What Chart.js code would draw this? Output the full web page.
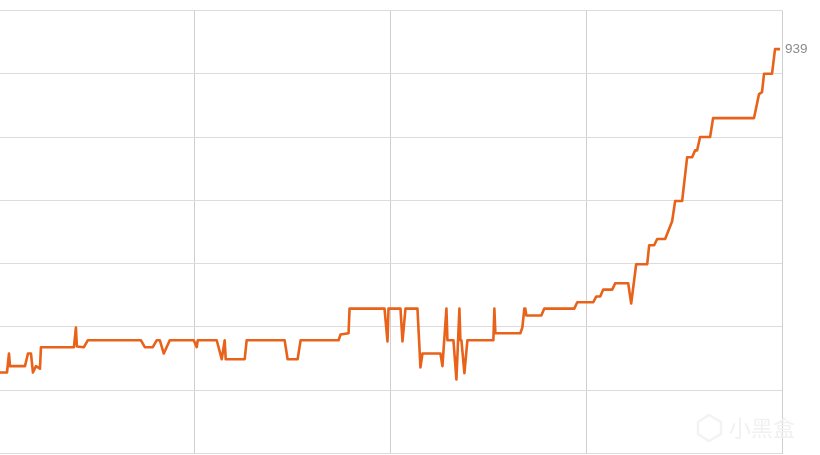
<!DOCTYPE html>
<html>
<head>
<meta charset="utf-8">
<style>html,body{margin:0;padding:0;background:#fff;overflow:hidden}canvas{display:block}</style>
<script src="https://cdn.jsdelivr.net/npm/chart.js@4"></script>
</head>
<body>
<canvas id="c" width="820" height="455"></canvas>
<script>
const days = [0.5,4,5,5.5,13,14.5,16,17,18.5,20.5,21,37.5,38.5,39,42.5,44.5,71,73,77,79,80.5,82.5,85.5,97.5,99,99.5,109,111.5,113,113.5,123,124,143,144.5,149.5,151,170,171,175,175.5,193,194.5,195,201,202,203.5,209.5,211,212,221,222,224,224.5,227.5,229,230.5,231,231.5,233,234.5,247.5,248,248.5,261,262,263,263.5,264,271.5,273,288,289.5,297.5,299,301,302.5,307,308.5,315,316.5,319,324.5,325.5,328,329.5,333.5,337,338.5,342,344.5,347,348.5,349.5,351,356,357.5,378,380.5,382,383,387,388.5,391];
const values = [428,428,458,438,438,458,458,428,438,434,468,468,499,469,468,479,479,468,468,479,479,458,479,479,468,479,479,449,479,449,449,479,479,449,449,479,479,488,490,529,529,477,529,529,477,529,529,436,458,458,438,529,479,479,417,529,479,479,427,479,479,529,490,490,499,529,529,518,518,529,529,539,539,548,548,559,559,569,569,537,599,599,629,629,639,639,667,699,699,768,768,779,779,800,800,830,830,868,871,900,900,939,939];
const gridDays = [98,196,294,392];
const yTicks = [300,400,500,600,700,800,900,1000];
const lastLabel = "939";
const watermark = "小黑盒";

const labelPlugin = {
  id: 'endLabel',
  afterDraw(chart) {
    const {ctx, scales:{x,y}} = chart;
    ctx.save();
    ctx.font = '13.5px "Liberation Sans", Arial, sans-serif';
    ctx.fillStyle = '#8c8c8c';
    ctx.textBaseline = 'middle';
    ctx.fillText(lastLabel, x.getPixelForValue(392) + 3, y.getPixelForValue(939) + 0.5);
    ctx.font = '22px "Noto Sans CJK SC", sans-serif';
    ctx.fillStyle = '#f1f1f1';
    ctx.fillText(watermark, 729, 428);
    ctx.strokeStyle = '#f3f3f3';
    ctx.lineWidth = 2.5;
    ctx.beginPath();
    ctx.moveTo(698,422);ctx.lineTo(709,415);ctx.lineTo(721,422);ctx.lineTo(721,434);ctx.lineTo(709,441);ctx.lineTo(698,434);ctx.closePath();
    ctx.stroke();
    ctx.restore();
  }
};

new Chart(document.getElementById('c'), {
  type: 'line',
  data: { datasets: [{
    data: days.map((d,i)=>({x:d,y:values[i]})),
    borderColor: '#e8621a',
    borderWidth: 2.6,
    pointRadius: 0,
    tension: 0,
    borderJoinStyle: 'round',
    fill: false
  }]},
  options: {
    responsive: false,
    animation: false,
    layout: { padding: { left: 0, right: 38, top: 10.5, bottom: 1.5 } },
    plugins: { legend: {display:false}, tooltip: {enabled:false} },
    scales: {
      x: {
        type: 'linear', min: 0.5, max: 392,
        afterBuildTicks(s){ s.ticks = gridDays.map(v=>({value:v})); },
        ticks: {display:false},
        grid: {color:'#cfcfcf', drawTicks:false},
        border: {display:false}
      },
      y: {
        type: 'linear', min: 300, max: 1000,
        afterBuildTicks(s){ s.ticks = yTicks.map(v=>({value:v})); },
        ticks: {display:false},
        grid: {color:'#dcdcdc', drawTicks:false},
        border: {display:false}
      }
    }
  },
  plugins: [labelPlugin]
});
</script>
</body>
</html>
